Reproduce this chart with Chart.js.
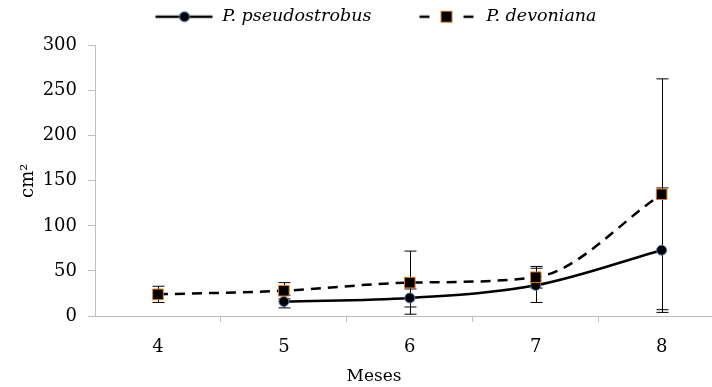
<!DOCTYPE html>
<html>
<head>
<meta charset="utf-8">
<script src="https://cdn.jsdelivr.net/npm/chart.js@4"></script>
<style>
  html, body { margin: 0; padding: 0; background: #fff; overflow: hidden; }
  #wrap { width: 712px; height: 387px; }
</style>
</head>
<body>
<div id="wrap"><canvas id="grafica"></canvas></div>
<script>
var meses = [4, 5, 6, 7, 8];
var pseudoValues = [null, 16, 20, 34, 73];
var pseudoErr = [null, 7, 10, 19, 69];
var devonValues = [24, 28, 37, 43, 135];
var devonErr = [9, 9, 35, 12, 128];
var yTicks = [0, 50, 100, 150, 200, 250, 300];

var serif = "'DejaVu Serif', 'Liberation Serif', serif";
var axisGray = "#bfbfbf";

function toPoints(vals) {
  var out = [];
  for (var i = 0; i < meses.length; i++) {
    if (vals[i] !== null) out.push({ x: meses[i], y: vals[i] });
  }
  return out;
}

// legend samples: line + marker (blank room on the left spaces the items)
function legendPseudo() {
  var c = document.createElement("canvas");
  c.width = 98; c.height = 14;
  var g = c.getContext("2d");
  g.strokeStyle = "#000"; g.lineWidth = 2.5;
  g.beginPath(); g.moveTo(40, 7); g.lineTo(97, 7); g.stroke();
  g.beginPath(); g.arc(69, 7, 5, 0, Math.PI * 2);
  g.fillStyle = "#000"; g.fill();
  g.strokeStyle = "#4a7ebb"; g.lineWidth = 1; g.stroke();
  return c;
}
function legendDevon() {
  var c = document.createElement("canvas");
  c.width = 98; c.height = 14;
  var g = c.getContext("2d");
  g.strokeStyle = "#000"; g.lineWidth = 2.5;
  g.beginPath(); g.moveTo(40, 7); g.lineTo(50, 7); g.moveTo(84, 7); g.lineTo(94, 7); g.stroke();
  g.fillStyle = "#000"; g.fillRect(61, 1, 12, 12);
  g.strokeStyle = "#e87d1e"; g.lineWidth = 1; g.strokeRect(61.5, 1.5, 11, 11);
  return c;
}

var errorBars = {
  id: "errorBars",
  beforeDatasetsDraw: function (chart) {
    var ctx = chart.ctx, xs = chart.scales.x, ys = chart.scales.y;
    var sets = [[pseudoValues, pseudoErr], [devonValues, devonErr]];
    ctx.save();
    ctx.strokeStyle = "#000";
    ctx.lineWidth = 1;
    sets.forEach(function (s) {
      for (var i = 0; i < meses.length; i++) {
        if (s[0][i] === null) continue;
        var px = Math.round(xs.getPixelForValue(meses[i])) + 0.5;
        var top = ys.getPixelForValue(s[0][i] + s[1][i]);
        var bot = ys.getPixelForValue(Math.max(0, s[0][i] - s[1][i]));
        ctx.beginPath();
        ctx.moveTo(px, top); ctx.lineTo(px, bot);
        ctx.moveTo(px - 6, top); ctx.lineTo(px + 6, top);
        ctx.moveTo(px - 6, bot); ctx.lineTo(px + 6, bot);
        ctx.stroke();
      }
    });
    ctx.restore();
  }
};

// more room under the legend, and "Meses" sits a bit right of centre
var tweaks = {
  id: "tweaks",
  beforeInit: function (chart) {
    var fit = chart.legend.fit;
    chart.legend.fit = function () {
      fit.bind(chart.legend)();
      this.height += 10;
    };
  },
  afterLayout: function (chart) {
    if (chart.titleBlock) chart.titleBlock.left += 36;
  }
};

new Chart("grafica", {
  type: "line",
  data: {
    datasets: [{
      label: "P. devoniana",
      data: toPoints(devonValues),
      borderColor: "#000",
      borderWidth: 2.5,
      borderDash: [10, 7],
      cubicInterpolationMode: "monotone",
      pointStyle: "rect",
      pointRadius: 7.5,
      pointBackgroundColor: "#000",
      pointBorderColor: "#e87d1e",
      pointBorderWidth: 1,
      legendImg: legendDevon()
    }, {
      label: "P. pseudostrobus",
      data: toPoints(pseudoValues),
      borderColor: "#000",
      borderWidth: 2.5,
      cubicInterpolationMode: "monotone",
      pointStyle: "circle",
      pointRadius: 5,
      pointBackgroundColor: "#000",
      pointBorderColor: "#4a7ebb",
      pointBorderWidth: 1,
      legendImg: legendPseudo()
    }]
  },
  plugins: [errorBars, tweaks],
  options: {
    responsive: true,
    maintainAspectRatio: false,
    animation: false,
    layout: { padding: 0, autoPadding: false },
    plugins: {
      tooltip: { enabled: false },
      legend: {
        position: "top",
        reverse: true,
        labels: {
          usePointStyle: true,
          pointStyleWidth: 98,
          padding: 8,
          color: "#000",
          font: { family: serif, size: 17.5, style: "italic" },
          generateLabels: function (chart) {
            return chart.data.datasets.map(function (ds, i) {
              return { text: ds.label, pointStyle: ds.legendImg, datasetIndex: i, fontColor: "#000", lineWidth: 0, strokeStyle: "transparent", fillStyle: "transparent" };
            });
          }
        }
      },
      title: {
        display: true,
        position: "bottom",
        text: "Meses",
        color: "#000",
        padding: { top: 0, bottom: 0 },
        font: { family: serif, size: 17, weight: "normal" }
      }
    },
    scales: {
      x: {
        type: "linear",
        min: 3.5,
        max: 8.4,
        afterBuildTicks: function (scale) {
          var t = [];
          for (var v = 4; v <= 8; v += 0.5) t.push({ value: v });
          scale.ticks = t;
        },
        afterFit: function (scale) {
          scale.height = 50.6;
          scale.paddingLeft = 0;
          scale.paddingRight = 0;
        },
        border: { color: axisGray, width: 1 },
        grid: {
          drawOnChartArea: false,
          tickLength: 6,
          color: function (c) { return c.tick && c.tick.value % 1 === 0 ? "transparent" : axisGray; }
        },
        ticks: {
          autoSkip: false,
          maxRotation: 0,
          padding: 15,
          color: "#000",
          font: { family: serif, size: 18 },
          callback: function (v) { return v % 1 === 0 ? String(v) : ""; }
        }
      },
      y: {
        min: 0,
        max: 300,
        afterBuildTicks: function (scale) {
          scale.ticks = yTicks.map(function (v) { return { value: v }; });
        },
        afterFit: function (scale) {
          scale.width = 95;
        },
        border: { color: axisGray, width: 1 },
        grid: { drawOnChartArea: false, tickLength: 7, color: axisGray },
        title: {
          display: true,
          text: "cm²",
          color: "#000",
          padding: { top: 18, bottom: 0 },
          font: { family: serif, size: 18 }
        },
        ticks: {
          padding: 11,
          color: "#000",
          font: { family: serif, size: 18 }
        }
      }
    }
  }
});
</script>
</body>
</html>
